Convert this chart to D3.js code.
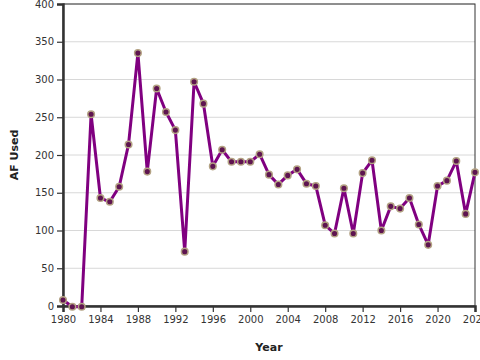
<!DOCTYPE html>
<html>
<head>
<meta charset="utf-8">
<script src="https://cdn.jsdelivr.net/npm/d3@7"></script>
<style>
  body { margin: 0; background: #fff; }
  text { font-family: "DejaVu Sans", sans-serif; }
</style>
</head>
<body>
<svg class="chart"></svg>
<script>
var years = [1980, 1981, 1982, 1983, 1984, 1985, 1986, 1987, 1988, 1989,
  1990, 1991, 1992, 1993, 1994, 1995, 1996, 1997, 1998, 1999,
  2000, 2001, 2002, 2003, 2004, 2005, 2006, 2007, 2008, 2009,
  2010, 2011, 2012, 2013, 2014, 2015, 2016, 2017, 2018, 2019,
  2020, 2021, 2022, 2023, 2024];
var afUsed = [8, -1, -1, 254, 143, 138, 158, 214, 335, 178,
  288, 257, 233, 72, 297, 268, 185, 207, 191, 191,
  191, 201, 174, 161, 173, 181, 162, 159, 107, 96,
  156, 96, 176, 193, 100, 132, 129, 143, 108, 81,
  159, 166, 192, 122, 177];
var yTicks = [0, 50, 100, 150, 200, 250, 300, 350, 400];
var xTicks = [1980, 1984, 1988, 1992, 1996, 2000, 2004, 2008, 2012, 2016, 2020, 2024];

var data = years.map(function(y, i) { return { year: y, value: afUsed[i] }; });

var width = 480, height = 360;
var margin = { top: 4, right: 5, bottom: 54, left: 63 };
var w = width - margin.left - margin.right,
    h = height - margin.top - margin.bottom;

var svg = d3.select(".chart").attr("width", width).attr("height", height);
var g = svg.append("g").attr("transform", "translate(" + margin.left + "," + margin.top + ")");

var x = d3.scaleLinear().domain([1980, 2024]).range([0, w]);
var y = d3.scaleLinear().domain([0, 400]).range([h, 0]);

// grid
g.selectAll(".grid").data(yTicks).enter().append("line")
  .attr("x1", 0).attr("x2", w)
  .attr("y1", function(d) { return y(d); }).attr("y2", function(d) { return y(d); })
  .attr("stroke", "#d8d8d8").attr("stroke-width", 1);

// frame
g.append("rect").attr("width", w).attr("height", h)
  .attr("fill", "none").attr("stroke", "#333").attr("stroke-width", 1);

var xAxis = g.append("g").attr("transform", "translate(0," + h + ")")
  .call(d3.axisBottom(x).tickValues(xTicks).tickFormat(d3.format("d")).tickSize(6).tickPadding(4));
var yAxis = g.append("g")
  .call(d3.axisLeft(y).tickValues(yTicks).tickSize(6).tickPadding(3));

[xAxis, yAxis].forEach(function(a) {
  a.select(".domain").attr("stroke", "#333").attr("stroke-width", 2.5);
  a.selectAll(".tick line").attr("stroke", "#333").attr("stroke-width", 1.2);
  a.selectAll(".tick text").attr("fill", "#333").style("font-size", "10px")
    .style("font-family", "DejaVu Sans, sans-serif");
});

var line = d3.line()
  .x(function(d) { return x(d.year); })
  .y(function(d) { return y(d.value); });

g.append("path").datum(data)
  .attr("d", line)
  .attr("fill", "none")
  .attr("stroke", "#800080")
  .attr("stroke-width", 3)
  .attr("stroke-linejoin", "round");

g.selectAll(".pt").data(data).enter().append("circle")
  .attr("cx", function(d) { return x(d.year); })
  .attr("cy", function(d) { return y(d.value); })
  .attr("r", 3.3)
  .attr("fill", "#5e1450")
  .attr("stroke", "#b3a283")
  .attr("stroke-width", 1.5);

svg.append("text")
  .attr("x", margin.left + w / 2).attr("y", 351)
  .attr("text-anchor", "middle")
  .style("font-size", "11px").style("font-weight", "bold").attr("fill", "#222")
  .text("Year");

svg.append("text")
  .attr("transform", "translate(18," + (margin.top + h / 2) + ") rotate(-90)")
  .attr("text-anchor", "middle")
  .style("font-size", "11px").style("font-weight", "bold").attr("fill", "#222")
  .text("AF Used");
</script>
</body>
</html>
